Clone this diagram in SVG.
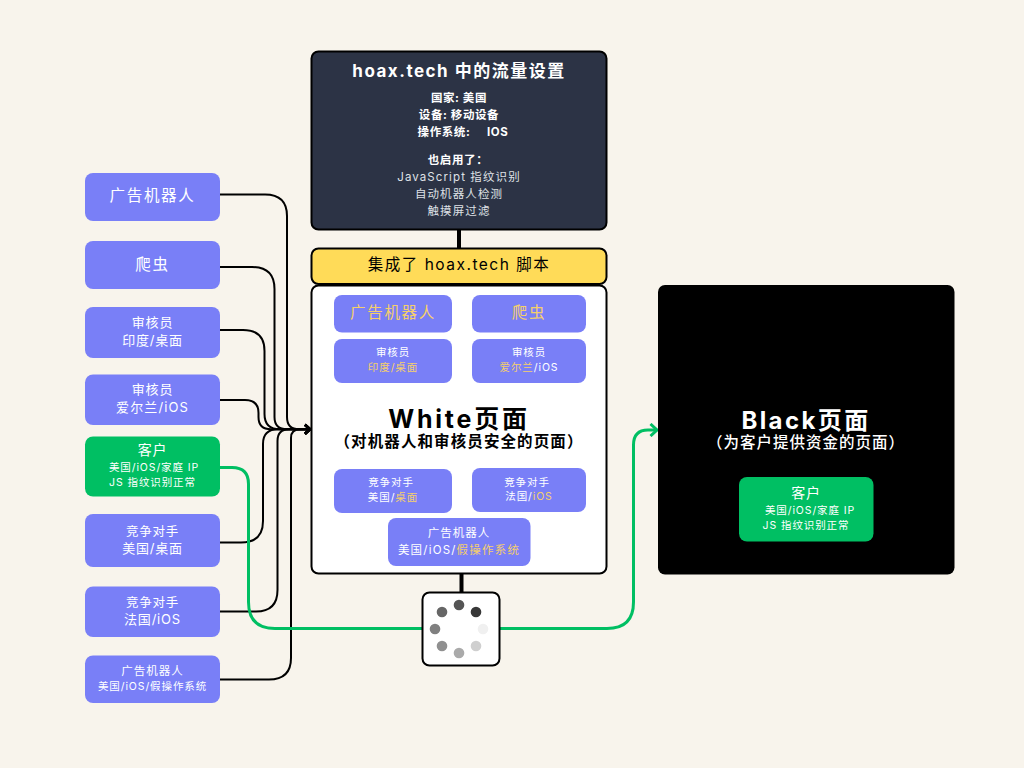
<svg xmlns="http://www.w3.org/2000/svg" width="1024" height="768" viewBox="0 0 1024 768">
<style>
text{font-family:"Inter","Noto Sans CJK SC",sans-serif;text-anchor:middle;fill:#fff}
.p{fill:#797ff7}
.g{fill:#00bf63}
.y{fill:#f5cf6b}
.k{fill:#000}
.c{fill:none;stroke:#000;stroke-width:2}
.t{fill:none;stroke:#000;stroke-width:4}
.gr{fill:none;stroke:#00bf63;stroke-width:3}
.box{stroke:#000;stroke-width:2}
.s{font-size:10.500px;letter-spacing:.9px}
.m{font-size:13px;letter-spacing:.8px}
.l{font-size:15.500px;letter-spacing:1.700px}
.b{font-weight:700}
.w{font-size:11.500px;letter-spacing:.6px;font-weight:700}
.w2{font-size:11.500px;letter-spacing:1.100px;font-weight:400;fill:#dfe1e6}
.h{font-size:24px;letter-spacing:2.400px;font-weight:700}
.sub{font-size:15.500px;letter-spacing:1px;font-weight:700}
</style>
<defs>
<marker id="ab" markerUnits="userSpaceOnUse" markerWidth="12" markerHeight="12" refX="9" refY="6" orient="auto"><path d="M4 1.500L9 6L4 10.500" fill="none" stroke="#000" stroke-width="2.500"/></marker>
<marker id="ag" markerUnits="userSpaceOnUse" markerWidth="14" markerHeight="14" refX="11" refY="7" orient="auto"><path d="M4.500 1L11 7L4.500 13" fill="none" stroke="#00bf63" stroke-width="3"/></marker>
</defs>
<rect width="1024" height="768" fill="#f8f4ec"/>
<g id="connectors">
<path class="c" d="M220 194.500H265Q287 194.500 287 216V417Q287 429.300 299 429.300H310" marker-end="url(#ab)"/>
<path class="c" d="M220 267H252Q274.500 267 274.500 289V417Q274.500 429.300 287 429.300H310" marker-end="url(#ab)"/>
<path class="c" d="M220 330H243Q264.500 330 264.500 351V414Q264.500 429.300 280 429.300H310" marker-end="url(#ab)"/>
<path class="c" d="M220 400H245Q258.500 400 258.500 413V417Q258.500 429.300 271 429.300H310" marker-end="url(#ab)"/>
<path class="c" d="M220 542.500H241Q263 542.500 263 521V444Q263 429.300 278 429.300H310" marker-end="url(#ab)"/>
<path class="c" d="M220 611.500H256Q277.500 611.500 277.500 590V441Q277.500 429.300 289 429.300H310" marker-end="url(#ab)"/>
<path class="c" d="M220 679.500H269Q291 679.500 291 658V438Q291 429.300 300 429.300H310" marker-end="url(#ab)"/>
<path class="t" d="M459 229V248"/>
<path class="t" d="M461.500 573V593"/>
<path class="gr" d="M220 467.500H232Q248.500 467.500 248.500 484V602Q248.500 628.500 275 628.500H422"/>
<path class="gr" d="M500 628.500H607Q633.500 628.500 633.500 602V445Q633.500 430 648 430H657" marker-end="url(#ag)"/>
</g>
<g id="left-ad-bot"><rect class="p" x="85" y="173" width="135" height="48" rx="8"/><text class="l" x="152.500" y="201">广告机器人</text></g>
<g id="left-crawler"><rect class="p" x="85" y="241" width="135" height="48" rx="8"/><text class="l" x="152.500" y="270">爬虫</text></g>
<g id="left-reviewer-in"><rect class="p" x="85" y="307" width="135" height="51" rx="8"/><text class="m" x="152.500" y="327">审核员</text><text class="m" x="152.500" y="345">印度/桌面</text></g>
<g id="left-reviewer-ie"><rect class="p" x="85" y="374.500" width="135" height="50.500" rx="8"/><text class="m" x="152.500" y="394">审核员</text><text class="m" x="152.500" y="412" style="letter-spacing:1.100px">爱尔兰/iOS</text></g>
<g id="left-customer"><rect class="g" x="85" y="436.500" width="135" height="60" rx="8"/><text class="m" x="152.500" y="455" style="font-size:14px">客户</text><text class="s" x="154" y="471">美国/iOS/家庭 IP</text><text class="s" x="152.500" y="486">JS 指纹识别正常</text></g>
<g id="left-rival-us"><rect class="p" x="85" y="514" width="135" height="53" rx="8"/><text class="m" x="152.500" y="536" style="font-size:12.500px">竞争对手</text><text class="m" x="152.500" y="553">美国/桌面</text></g>
<g id="left-rival-fr"><rect class="p" x="85" y="586.500" width="135" height="50.500" rx="8"/><text class="m" x="152.500" y="607" style="font-size:12.500px">竞争对手</text><text class="m" x="152.500" y="624">法国/iOS</text></g>
<g id="left-fake-os"><rect class="p" x="85" y="655.500" width="135" height="47.500" rx="8"/><text class="m" x="152.500" y="675" style="font-size:11.500px;letter-spacing:1px">广告机器人</text><text class="s" x="152.500" y="690">美国/iOS/假操作系统</text></g>
<g id="settings">
<rect class="box" x="311.500" y="51.500" width="295" height="178" rx="7" fill="#2c3345"/>
<text class="b" x="459" y="77" style="font-size:17px;letter-spacing:1.500px">hoax.tech 中的流量设置</text>
<text class="w" x="459" y="101.500">国家: 美国</text>
<text class="w" x="459" y="119">设备: 移动设备</text>
<text class="w" x="463" y="136">操作系统:&#160;&#160;&#160;&#160;&#160;IOS</text>
<text class="w" x="458" y="163.500">也启用了：</text>
<text class="w2" x="459" y="180.500">JavaScript 指纹识别</text>
<text class="w2" x="459" y="197.500">自动机器人检测</text>
<text class="w2" x="459" y="214.500">触摸屏过滤</text>
</g>
<g id="script-bar"><rect class="box" x="311.500" y="248.500" width="295" height="35.500" rx="7" fill="#ffdb58"/><text class="k" x="459" y="269.500" style="font-size:15.500px;letter-spacing:1.500px;fill:#000">集成了 hoax.tech 脚本</text></g>
<g id="white-page">
<rect class="box" x="311.500" y="285.500" width="295" height="288" rx="7" fill="#fff"/>
<text class="h" x="459" y="427.500" style="fill:#000;font-size:25px;letter-spacing:2.800px">White页面</text>
<text class="sub" x="459" y="447" style="fill:#000;letter-spacing:1.100px">（对机器人和审核员安全的页面）</text>
</g>
<g id="w-ad-bot"><rect class="p" x="334" y="295" width="118" height="37.500" rx="8"/><text class="y l" x="393" y="318">广告机器人</text></g>
<g id="w-crawler"><rect class="p" x="472" y="295" width="114" height="37.500" rx="8"/><text class="y l" x="529" y="318">爬虫</text></g>
<g id="w-reviewer-in"><rect class="p" x="334" y="339" width="118" height="44" rx="8"/><text class="s" x="393" y="356">审核员</text><text class="s" x="393" y="371"><tspan class="y">印度/桌面</tspan></text></g>
<g id="w-reviewer-ie"><rect class="p" x="472" y="339" width="114" height="44" rx="8"/><text class="s" x="529" y="356">审核员</text><text class="s" x="529" y="371"><tspan class="y">爱尔兰</tspan>/iOS</text></g>
<g id="w-rival-us"><rect class="p" x="334" y="469" width="118" height="44" rx="8"/><text class="s" x="391" y="486">竞争对手</text><text class="s" x="393" y="501">美国/<tspan class="y">桌面</tspan></text></g>
<g id="w-rival-fr"><rect class="p" x="472" y="468" width="114" height="44" rx="8"/><text class="s" x="527" y="486">竞争对手</text><text class="s" x="529" y="500">法国/<tspan class="y">iOS</tspan></text></g>
<g id="w-fake-os"><rect class="p" x="388" y="518" width="142.500" height="48" rx="8"/><text class="m" x="459" y="537" style="font-size:11.500px;letter-spacing:1px">广告机器人</text><text class="m" x="459" y="554" style="font-size:11.500px;letter-spacing:1.200px">美国/iOS/<tspan class="y">假操作系统</tspan></text></g>
<g id="spinner">
<rect class="box" x="422.500" y="592.500" width="77" height="73" rx="7" fill="#fff"/>
<circle cx="459" cy="605" r="5.300" fill="#555"/>
<circle cx="476" cy="612" r="5.300" fill="#383838"/>
<circle cx="483" cy="629" r="5.300" fill="#f0f0f0"/>
<circle cx="476" cy="646" r="5.300" fill="#cfcfcf"/>
<circle cx="459" cy="653" r="5.300" fill="#aaa"/>
<circle cx="442" cy="646" r="5.300" fill="#909090"/>
<circle cx="435" cy="629" r="5.300" fill="#808080"/>
<circle cx="442" cy="612" r="5.300" fill="#666"/>
</g>
<g id="black-page">
<rect x="658" y="285" width="296.500" height="289.500" rx="7" fill="#000"/>
<text class="h" x="806" y="428.500">Black页面</text>
<text class="sub" x="806" y="447.500" style="font-weight:500">（为客户提供资金的页面）</text>
</g>
<g id="b-customer"><rect class="g" x="739" y="477" width="134.500" height="64.500" rx="8"/><text class="m" x="806" y="498" style="font-size:14px">客户</text><text class="s" x="810" y="514">美国/iOS/家庭 IP</text><text class="s" x="806" y="529">JS 指纹识别正常</text></g>
</svg>
